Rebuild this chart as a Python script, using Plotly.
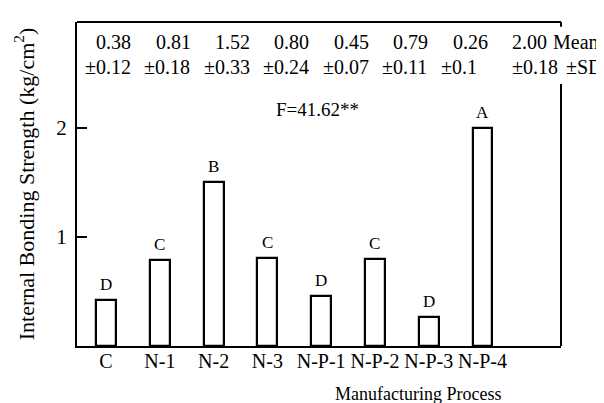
import plotly.graph_objects as go

# ---- data ----
categories = ["C", "N-1", "N-2", "N-3", "N-P-1", "N-P-2", "N-P-3", "N-P-4"]
bar_values = [0.42, 0.79, 1.50, 0.81, 0.46, 0.80, 0.27, 2.00]
group_letters = ["D", "C", "B", "C", "D", "C", "D", "A"]
mean_labels = ["0.38", "0.81", "1.52", "0.80", "0.45", "0.79", "0.26", "2.00"]
sd_labels = ["±0.12", "±0.18", "±0.33", "±0.24", "±0.07", "±0.11", "±0.1", "±0.18"]
f_label = "F=41.62**"

FONT = "Liberation Serif"
ROWFONT = dict(family=FONT, size=20, color="black")

fig = go.Figure()
fig.add_trace(go.Bar(
    x=categories, y=bar_values, width=0.37,
    marker=dict(color="white", line=dict(color="black", width=2.2)),
    showlegend=False, hoverinfo="skip",
))

ann = []
# group letters above bars
for i, (v, g) in enumerate(zip(bar_values, group_letters)):
    ann.append(dict(x=i, y=v, xref="x", yref="y", text=g, showarrow=False,
                    yanchor="bottom", yshift=4,
                    font=dict(family=FONT, size=17, color="black")))
# Mean / SD rows
step = 1.105
for i, (m, s) in enumerate(zip(mean_labels, sd_labels)):
    ann.append(dict(x=-0.22 + step * i, y=2.79, xref="x", yref="y", text=m,
                    showarrow=False, xanchor="left", yanchor="middle",
                    font=ROWFONT))
    sx = -0.43 + step * i + (0.2 if i == 7 else 0)
    ann.append(dict(x=sx, y=2.56, xref="x", yref="y", text=s,
                    showarrow=False, xanchor="left", yanchor="middle",
                    font=ROWFONT))
ann.append(dict(x=0.98, y=2.79, xref="paper", yref="y", text="Mean",
                showarrow=False, xanchor="left", yanchor="middle", font=ROWFONT))
ann.append(dict(x=1.006, y=2.56, xref="paper", yref="y", text="±SD",
                showarrow=False, xanchor="left", yanchor="middle", font=ROWFONT))
ann.append(dict(x=3.94, y=2.17, xref="x", yref="y", text=f_label, showarrow=False,
                xanchor="center", yanchor="middle",
                font=dict(family=FONT, size=19, color="black")))
# x-axis title
ann.append(dict(x=0.705, y=-0.148, xref="paper", yref="paper",
                text="Manufacturing Process", showarrow=False,
                xanchor="center", yanchor="middle",
                font=dict(family=FONT, size=18, color="black")))

shapes = [
    dict(type="line", xref="paper", yref="paper", x0=0, x1=1, y0=1, y1=1,
         line=dict(color="black", width=2.2)),
    dict(type="line", xref="paper", yref="paper", x0=1, x1=1, y0=0, y1=0.809,
         line=dict(color="black", width=2)),
    dict(type="line", xref="paper", yref="paper", x0=1, x1=1, y0=0.985, y1=1,
         line=dict(color="black", width=2)),
]

fig.update_layout(
    width=604, height=403,
    margin=dict(l=69, r=51, t=14, b=65),
    paper_bgcolor="white", plot_bgcolor="white",
    font=dict(family=FONT, color="black"),
    annotations=ann, shapes=shapes,
    bargap=0,
)
fig.update_xaxes(
    range=[-0.54, 8.46], showline=True, linecolor="black", linewidth=2.2,
    ticks="", showgrid=False, zeroline=False,
    tickfont=dict(family=FONT, size=20, color="black"),
    ticklabelstandoff=-4,
)
fig.update_yaxes(
    range=[0, 2.97], tickvals=[1, 2], ticktext=["1", "2"],
    ticks="inside", ticklen=10, tickwidth=2, tickcolor="black",
    showline=True, linecolor="black", linewidth=2.2,
    showgrid=False, zeroline=False,
    tickfont=dict(family=FONT, size=21, color="black"),
    ticklabelstandoff=4,
    title=dict(text="Internal Bonding Strength (kg/cm<sup>2</sup>)",
               font=dict(family=FONT, size=22, color="black"), standoff=16),
)

fig.write_html("out.html")
